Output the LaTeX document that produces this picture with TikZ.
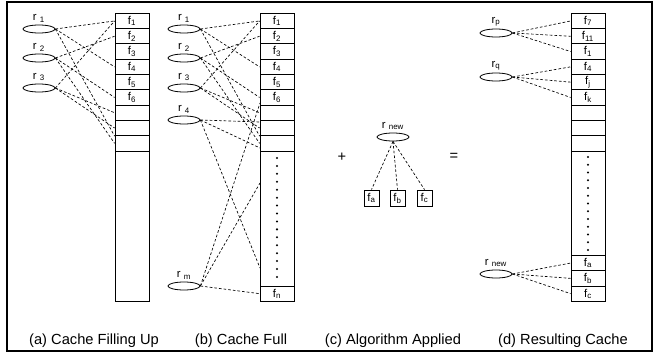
\documentclass[tikz,border=0pt]{standalone}
\usepackage{fontspec}
\setmainfont{Liberation Sans}
\usetikzlibrary{shapes.geometric}
\tikzset{
  cell/.style={draw, minimum width=25.5pt, minimum height=11.475pt, inner sep=0pt, line width=0.6pt, font=\fontsize{8.5}{9}\selectfont},
  colbox/.style={draw, minimum width=25.5pt, minimum height=216pt, inner sep=0pt, line width=0.6pt, anchor=north},
  fbox/.style={draw, minimum width=11.25pt, minimum height=12pt, inner sep=0pt, line width=0.6pt, font=\fontsize{8.5}{9}\selectfont},
  req/.style={draw, ellipse, minimum width=24pt, minimum height=6pt, inner sep=0pt, line width=0.6pt},
  rlab/.style={font=\fontsize{8.5}{9}\selectfont, inner sep=0.5pt, anchor=south},
  link/.style={dash pattern=on 2pt off 1.5pt, line width=0.5pt},
  captext/.style={font=\fontsize{11}{13}\selectfont, inner sep=0pt},
  sym/.style={font=\fontsize{11}{13}\selectfont, inner sep=0pt},
  dotmark/.style={fill=black}
}
\newcommand{\fs}[1]{f\textsubscript{#1}}
\begin{document}
\begin{tikzpicture}[x=0.75pt,y=-0.75pt]
\useasboundingbox (0,0) rectangle (656,353);
\draw[line width=1.6pt] (7,2) rectangle (652,351);

% ---------- (a) ----------
\node[colbox] (acol) at (132,13.3) {};
\foreach \i in {1,...,9} {
  \node[cell] (a\i) at (132,{13.3+(\i-0.5)*15.3}) {\ifnum\i<7 \fs{\i}\fi};
}
\node[req] (ar1) at (39,29) {};
\node[req] (ar2) at (39,58) {};
\node[req] (ar3) at (39,88) {};
\node[rlab] (ar1l) at ([yshift=1.2pt]ar1.north) {r \textsubscript{1}};
\node[rlab] (ar2l) at ([yshift=1.2pt]ar2.north) {r \textsubscript{2}};
\node[rlab] (ar3l) at ([yshift=1.2pt]ar3.north) {r \textsubscript{3}};
\draw[link] (ar1.east) -- (a1.west);
\draw[link] (ar1.east) -- (a4.west);
\draw[link] (ar1.east) -- (a8.south west);
\draw[link] (ar2.east) -- (a2.west);
\draw[link] (ar2.east) -- (a6.west);
\draw[link] (ar2.east) -- (a9.west);
\draw[link] (ar3.east) -- (a1.west);
\draw[link] (ar3.east) -- (a7.west);
\draw[link] (ar3.east) -- (a8.west);

% ---------- (b) ----------
\node[colbox] (bcol) at (277,13.3) {};
\foreach \i in {1,...,9} {
  \node[cell] (b\i) at (277,{13.3+(\i-0.5)*15.3}) {\ifnum\i<7 \fs{\i}\fi};
}
\node[cell] (bn) at (277,293.65) {\fs{n}};
\foreach \k in {0,...,15} {
  \fill[dotmark] (277,{158+\k*7.93}) circle (0.85pt);
}
\node[req] (br1) at (184,29) {};
\node[req] (br2) at (184,58) {};
\node[req] (br3) at (184,88) {};
\node[req] (br4) at (184,120) {};
\node[req] (brm) at (184,286) {};
\node[rlab] (br1l) at ([yshift=1.2pt]br1.north) {r \textsubscript{1}};
\node[rlab] (br2l) at ([yshift=1.2pt]br2.north) {r \textsubscript{2}};
\node[rlab] (br3l) at ([yshift=1.2pt]br3.north) {r \textsubscript{3}};
\node[rlab] (br4l) at ([yshift=1.2pt]br4.north) {r \textsubscript{4}};
\node[rlab] (brml) at ([yshift=1.2pt]brm.north) {r \textsubscript{m}};
\coordinate (b122) at (260,122);
\coordinate (b148) at (260,148);
\coordinate (b268) at (260,268);
\coordinate (b103) at (260,103);
\coordinate (b183) at (260,183);
\draw[link] (br1.east) -- (b1.west);
\draw[link] (br1.east) -- (b4.west);
\draw[link] (br1.east) -- (b8.south west);
\draw[link] (br2.east) -- (b2.west);
\draw[link] (br2.east) -- (b6.west);
\draw[link] (br2.east) -- (b9.west);
\draw[link] (br3.east) -- (b1.west);
\draw[link] (br3.east) -- (b7.west);
\draw[link] (br3.east) -- (b8.west);
\draw[link] (br4.east) -- (b122);
\draw[link] (br4.east) -- (b148);
\draw[link] (br4.east) -- (b268);
\draw[link] (brm.east) -- (b103);
\draw[link] (brm.east) -- (b183);
\draw[link] (brm.east) -- (bn.west);

% ---------- (c) ----------
\node[sym] (plus) at (342,157) {+};
\node[sym] (equal) at (454,157) {=};
\node[req] (cr) at (393,137) {};
\node[rlab] (crl) at ([yshift=1.2pt]cr.north) {r \textsubscript{new}};
\node[fbox] (fa) at (371.5,198) {\fs{a}};
\node[fbox] (fb) at (397.5,198) {\fs{b}};
\node[fbox] (fc) at (424.5,198) {\fs{c}};
\draw[link] (cr.south) -- (fa.north);
\draw[link] (cr.south) -- (fb.north);
\draw[link] (cr.south) -- (fc.north);

% ---------- (d) ----------
\node[colbox] (dcol) at (588,13.3) {};
\foreach \i/\t in {1/7,2/11,3/1,4/4,5/j,6/k} {
  \node[cell] (d\i) at (588,{13.3+(\i-0.5)*15.3}) {\fs{\t}};
}
\foreach \i in {7,8,9} {
  \node[cell] (d\i) at (588,{13.3+(\i-0.5)*15.3}) {};
}
\node[cell] (dfa) at (588,263.05) {\fs{a}};
\node[cell] (dfb) at (588,278.35) {\fs{b}};
\node[cell] (dfc) at (588,293.65) {\fs{c}};
\foreach \k in {0,...,12} {
  \fill[dotmark] (588,{157+\k*7.75}) circle (0.85pt);
}
\node[req] (drp) at (496,33) {};
\node[req] (drq) at (496,77) {};
\node[req] (drn) at (496,274) {};
\node[rlab] (drpl) at ([yshift=1.2pt]drp.north) {r\textsubscript{p}};
\node[rlab] (drql) at ([yshift=1.2pt]drq.north) {r\textsubscript{q}};
\node[rlab] (drnl) at ([yshift=1.2pt]drn.north) {r \textsubscript{new}};
\draw[link] (drp.east) -- (d1.west);
\draw[link] (drp.east) -- (d2.west);
\draw[link] (drp.east) -- (d3.west);
\draw[link] (drq.east) -- (d4.west);
\draw[link] (drq.east) -- (d5.west);
\draw[link] (drq.east) -- (d6.west);
\draw[link] (drn.east) -- (dfa.west);
\draw[link] (drn.east) -- (dfb.west);
\draw[link] (drn.east) -- (dfc.west);

% ---------- captions ----------
\node[captext] (capa) at (94,341) {(a) Cache Filling Up};
\node[captext] (capb) at (241,341) {(b) Cache Full};
\node[captext] (capc) at (393,341) {(c) Algorithm Applied};
\node[captext] (capd) at (563,341) {(d) Resulting Cache};
\end{tikzpicture}
\end{document}
